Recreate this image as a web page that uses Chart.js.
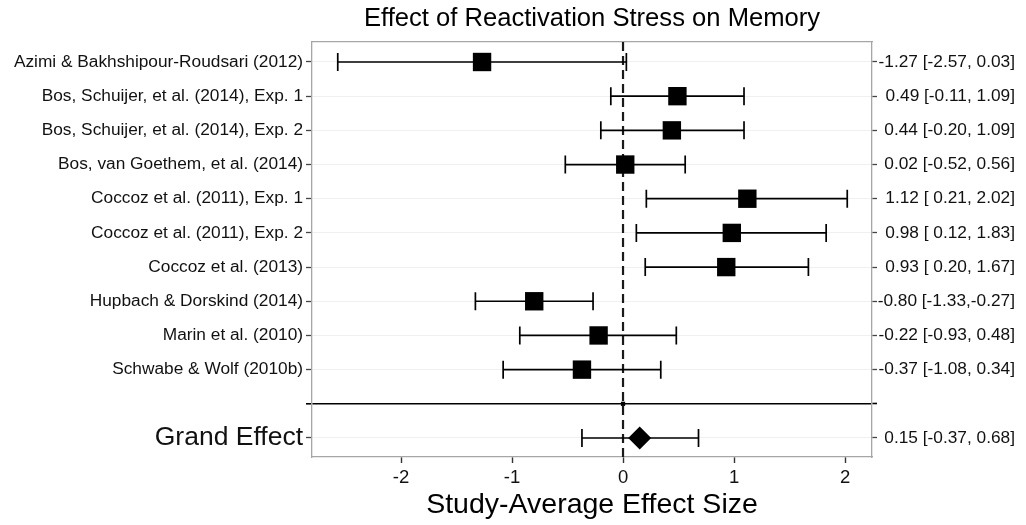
<!DOCTYPE html>
<html>
<head>
<meta charset="utf-8">
<script src="https://cdn.jsdelivr.net/npm/chart.js@4/dist/chart.umd.min.js"></script>
<style>
  html, body { margin: 0; padding: 0; background: #ffffff; }
  #wrap { width: 1026px; height: 525px; }
</style>
</head>
<body>
<div id="wrap"><canvas id="c" width="1026" height="525"></canvas></div>
<script>
// ---- data ----
const studies = [
  "Azimi & Bakhshipour-Roudsari (2012)",
  "Bos, Schuijer, et al. (2014), Exp. 1",
  "Bos, Schuijer, et al. (2014), Exp. 2",
  "Bos, van Goethem, et al. (2014)",
  "Coccoz et al. (2011), Exp. 1",
  "Coccoz et al. (2011), Exp. 2",
  "Coccoz et al. (2013)",
  "Hupbach & Dorskind (2014)",
  "Marin et al. (2010)",
  "Schwabe & Wolf (2010b)"
];
const estimates = [-1.27, 0.49, 0.44, 0.02, 1.12, 0.98, 0.93, -0.80, -0.22, -0.37];
const lower     = [-2.57, -0.11, -0.20, -0.52, 0.21, 0.12, 0.20, -1.33, -0.93, -1.08];
const upper     = [0.03, 1.09, 1.09, 0.56, 2.02, 1.83, 1.67, -0.27, 0.48, 0.34];
const grandLabel = "Grand Effect";
const grandEstimate = 0.15;
const grandLower = -0.37;
const grandUpper = 0.68;
const xTicks = [-2, -1, 0, 1, 2];
const referenceValue = 0;
const titleText = "Effect of Reactivation Stress on Memory";
const xAxisTitle = "Study-Average Effect Size";

// ---- derived rows ----
const sepRow = studies.length;          // 10
const grandRow = studies.length + 1;    // 11
const rowTicks = [];
for (let i = 0; i <= grandRow; i++) rowTicks.push(i);
const leftLabels = studies.concat(["", grandLabel]);
function fmt(v) { return (v < 0 ? "" : " ") + v.toFixed(2); }
function ciLabel(e, l, u) { return e.toFixed(2) + " [" + fmt(l) + "," + fmt(u) + "]"; }
const rightLabels = estimates.map((e, i) => ciLabel(e, lower[i], upper[i]))
  .concat(["", ciLabel(grandEstimate, grandLower, grandUpper)]);
const allEst = estimates.concat([null, grandEstimate]);
const allLo = lower.concat([null, grandLower]);
const allHi = upper.concat([null, grandUpper]);

const FONT = "'Liberation Sans', Arial, Helvetica, sans-serif";

const errorBars = {
  id: 'errorBars',
  beforeDatasetsDraw(chart) {
    const { ctx, chartArea } = chart;
    const xs = chart.scales.x, ys = chart.scales.y;
    ctx.save();
    // reference dashed line
    const x0 = xs.getPixelForValue(referenceValue);
    ctx.strokeStyle = '#1a1a1a';
    ctx.lineWidth = 2.2;
    ctx.setLineDash([9, 5]);
    ctx.beginPath();
    ctx.moveTo(x0, chartArea.top);
    ctx.lineTo(x0, chartArea.bottom);
    ctx.stroke();
    ctx.setLineDash([]);
    // whiskers
    ctx.lineWidth = 1.7;
    ctx.strokeStyle = '#000';
    for (let i = 0; i < allEst.length; i++) {
      if (allLo[i] === null) continue;
      const y = ys.getPixelForValue(i);
      const xl = xs.getPixelForValue(allLo[i]);
      const xh = xs.getPixelForValue(allHi[i]);
      const cap = 9;
      ctx.beginPath();
      ctx.moveTo(xl, y); ctx.lineTo(xh, y);
      ctx.moveTo(xl, y - cap); ctx.lineTo(xl, y + cap);
      ctx.moveTo(xh, y - cap); ctx.lineTo(xh, y + cap);
      ctx.stroke();
    }
    ctx.restore();
  }
};

const yMin = -0.585, yMax = 11.556;

new Chart(document.getElementById('c'), {
  type: 'scatter',
  data: {
    datasets: [
      {
        data: estimates.map((e, i) => ({ x: e, y: i })),
        pointStyle: 'rect', pointRadius: 13, pointHoverRadius: 13,
        backgroundColor: '#000', borderColor: '#000', borderWidth: 0
      },
      {
        data: [{ x: grandEstimate, y: grandRow }],
        pointStyle: 'rectRot', pointRadius: 11.5, pointHoverRadius: 11.5,
        backgroundColor: '#000', borderColor: '#000', borderWidth: 0
      },
      {
        data: [{ x: referenceValue, y: sepRow }],
        pointStyle: 'rect', pointRadius: 3, pointHoverRadius: 3,
        backgroundColor: '#000', borderColor: '#000', borderWidth: 0
      }
    ]
  },
  options: {
    responsive: false,
    animation: false,
    events: [],
    layout: { padding: { left: 0, right: 11, top: 0, bottom: 0 } },
    plugins: { legend: { display: false }, tooltip: { enabled: false }, title: { display: false } },
    scales: {
      x: {
        type: 'linear', position: 'bottom',
        min: -2.802, max: 2.243,
        afterBuildTicks(s) { s.ticks = xTicks.map(v => ({ value: v })); },
        afterFit(s) { s.height = 68; },
        grid: { drawOnChartArea: false, drawTicks: true, tickLength: 6, tickColor: '#333', tickWidth: 1.4 },
        border: { display: true, color: '#a6a6a6', width: 1.3 },
        ticks: { color: '#111', font: { family: FONT, size: 18.5 }, padding: 4, maxRotation: 0 },
        title: { display: true, text: xAxisTitle, color: '#000', font: { family: FONT, size: 28.5 }, padding: { top: 0, bottom: 3 } }
      },
      x2: {
        type: 'linear', position: 'top',
        min: -2.802, max: 2.243,
        afterFit(s) { s.height = 42; },
        grid: { drawOnChartArea: false, drawTicks: false },
        border: { display: true, color: '#a6a6a6', width: 1.3 },
        ticks: { display: false },
        title: { display: true, text: titleText, color: '#000', font: { family: FONT, size: 25.6 }, padding: { top: 4, bottom: 0 } }
      },
      y: {
        type: 'linear', position: 'left', reverse: true,
        min: yMin, max: yMax,
        afterBuildTicks(s) { s.ticks = rowTicks.map(v => ({ value: v })); },
        afterFit(s) { s.width = 312; },
        grid: {
          drawOnChartArea: true, drawTicks: true, tickLength: 6,
          color: c => (c.tick && c.tick.value === sepRow) ? '#000' : '#f0f0f0',
          lineWidth: c => (c.tick && c.tick.value === sepRow) ? 1.6 : 1,
          tickColor: c => (c.tick && c.tick.value === sepRow) ? '#000' : '#444',
          tickWidth: c => (c.tick && c.tick.value === sepRow) ? 1.6 : 1.3
        },
        border: { display: true, color: '#a6a6a6', width: 1.3 },
        ticks: {
          autoSkip: false, padding: 3, color: '#111',
          font: c => ({ family: FONT, size: (c.tick && c.tick.value === grandRow) ? 26.5 : 17.3 }),
          callback: v => leftLabels[v] !== undefined ? leftLabels[v] : ''
        }
      },
      y2: {
        type: 'linear', position: 'right', reverse: true,
        min: yMin, max: yMax,
        afterBuildTicks(s) { s.ticks = rowTicks.map(v => ({ value: v })); },
        afterFit(s) { s.width = 143; },
        grid: {
          drawOnChartArea: false, drawTicks: true, tickLength: 5,
          tickColor: c => (c.tick && c.tick.value === sepRow) ? '#000' : '#444',
          tickWidth: c => (c.tick && c.tick.value === sepRow) ? 1.6 : 1.3
        },
        border: { display: true, color: '#a6a6a6', width: 1.3 },
        ticks: {
          autoSkip: false, crossAlign: 'far', color: '#111',
          font: { family: FONT, size: 17.3 },
          callback: v => rightLabels[v] !== undefined ? rightLabels[v] : ''
        }
      }
    }
  },
  plugins: [errorBars]
});
</script>
</body>
</html>
